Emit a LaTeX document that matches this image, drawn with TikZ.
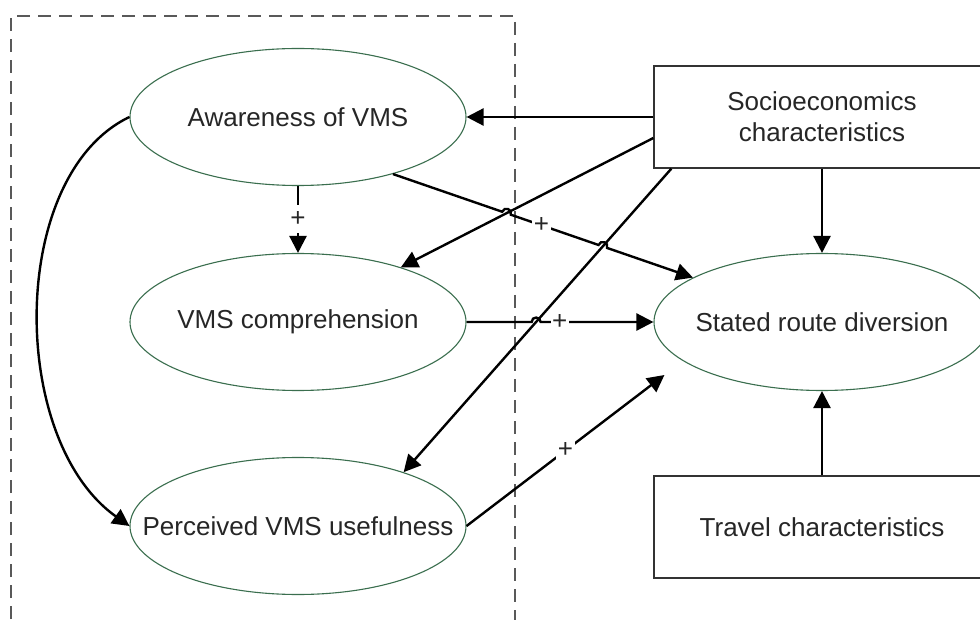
\documentclass[tikz,border=0pt]{standalone}
\usepackage{fontspec}
\setmainfont{Liberation Sans}
\usetikzlibrary{arrows.meta,calc,shapes.geometric}

\definecolor{ellgreen}{RGB}{58,110,78}
\newcommand{\hopr}{4.5pt}

\tikzset{
  ell/.style={ellipse, draw=ellgreen, line width=1.1pt, fill=white,
    minimum width=336pt, minimum height=137pt, inner sep=0pt},
  lbl/.style={text=black!85, font=\fontsize{26}{31}\selectfont},
  rbox/.style={rectangle, draw=black!80, line width=1.3pt, fill=white,
    minimum width=336pt, minimum height=102pt, inner sep=0pt, align=center,
    text=black!85, font=\fontsize{26}{31}\selectfont},
  conn/.style={draw=black, line width=2.4pt, -{Triangle[length=17pt,width=17pt]}},
  pluslbl/.style={fill=white, text=black!85, font=\fontsize{26}{30}\selectfont,
    inner xsep=1.5pt, inner ysep=6pt, text height=15pt, text depth=1pt},
  hop/.style={bend left=90, looseness=1.7},
  groupframe/.style={draw=black!65, line width=2pt, dash pattern=on 13pt off 8pt},
}

\begin{document}
\begin{tikzpicture}[x=1pt,y=1pt]
  \useasboundingbox (0,0) rectangle (980,-620);
  \clip (0,0) rectangle (980,-620);

  % dashed group around the three perception constructs
  \draw[groupframe] (11,-640) -- (11,-16) -- (515,-16) -- (515,-640);

  % constructs
  \node[ell, label={[lbl]center:Awareness of VMS}] (aw) at (298,-117) {};
  \node[ell, label={[lbl]center:VMS comprehension}] (vc) at (298,-322) {};
  \node[ell, label={[lbl]center:Perceived VMS usefulness}] (pu) at (298,-526) {};
  \node[ell, label={[lbl]center:Stated route diversion}] (sr) at (822,-322) {};

  \node[rbox] (se) at (822,-117) {Socioeconomics\\characteristics};
  \node[rbox] (tc) at (822,-527) {Travel characteristics};

  % end points of the crossing connectors
  \coordinate (as) at (aw.-31);
  \coordinate (ae) at (sr.161);
  \coordinate (bs) at ([yshift=-21pt]se.west);
  \coordinate (be) at (vc.28);
  \coordinate (cs) at ([xshift=18pt]se.south west);
  \coordinate (ce) at (pu.27);
  \coordinate (ee) at ([xshift=11pt,yshift=-53pt]sr.west);
  \coordinate (vce) at (vc.east);
  \coordinate (srw) at (sr.west);

  \coordinate (h1) at (intersection of as--ae and bs--be);
  \coordinate (h2) at (intersection of as--ae and cs--ce);
  \coordinate (h3) at (intersection of vce--srw and cs--ce);

  % socioeconomics effects
  \draw[conn] (se.west) -- (aw.east);
  \draw[conn] (bs) -- (be);
  \draw[conn] (cs) -- (ce);
  \draw[conn] (se.south) -- (sr.north);
  \draw[conn] (tc.north) -- (sr.south);

  % effects on route diversion, with line hops at crossings
  \draw[conn] (as) -- ($(h1)!\hopr!(as)$) to[hop] ($(h1)!\hopr!(ae)$)
    -- node[pluslbl,pos=0.35]{+} ($(h2)!\hopr!(as)$) to[hop] ($(h2)!\hopr!(ae)$)
    -- (ae);
  \draw[conn] (vce) -- ($(h3)!\hopr!(vce)$) to[hop] ($(h3)!\hopr!(srw)$)
    -- node[pluslbl,pos=0.17]{+} (srw);
  \draw[conn] (pu.east) -- node[pluslbl,midway]{+} (ee);

  % links among the perception constructs
  \draw[conn] (aw.south) -- node[pluslbl,midway]{+} (vc.north);
  \draw[conn] (aw.west) .. controls (8,-175) and (8,-440) .. (pu.west);
\end{tikzpicture}
\end{document}
